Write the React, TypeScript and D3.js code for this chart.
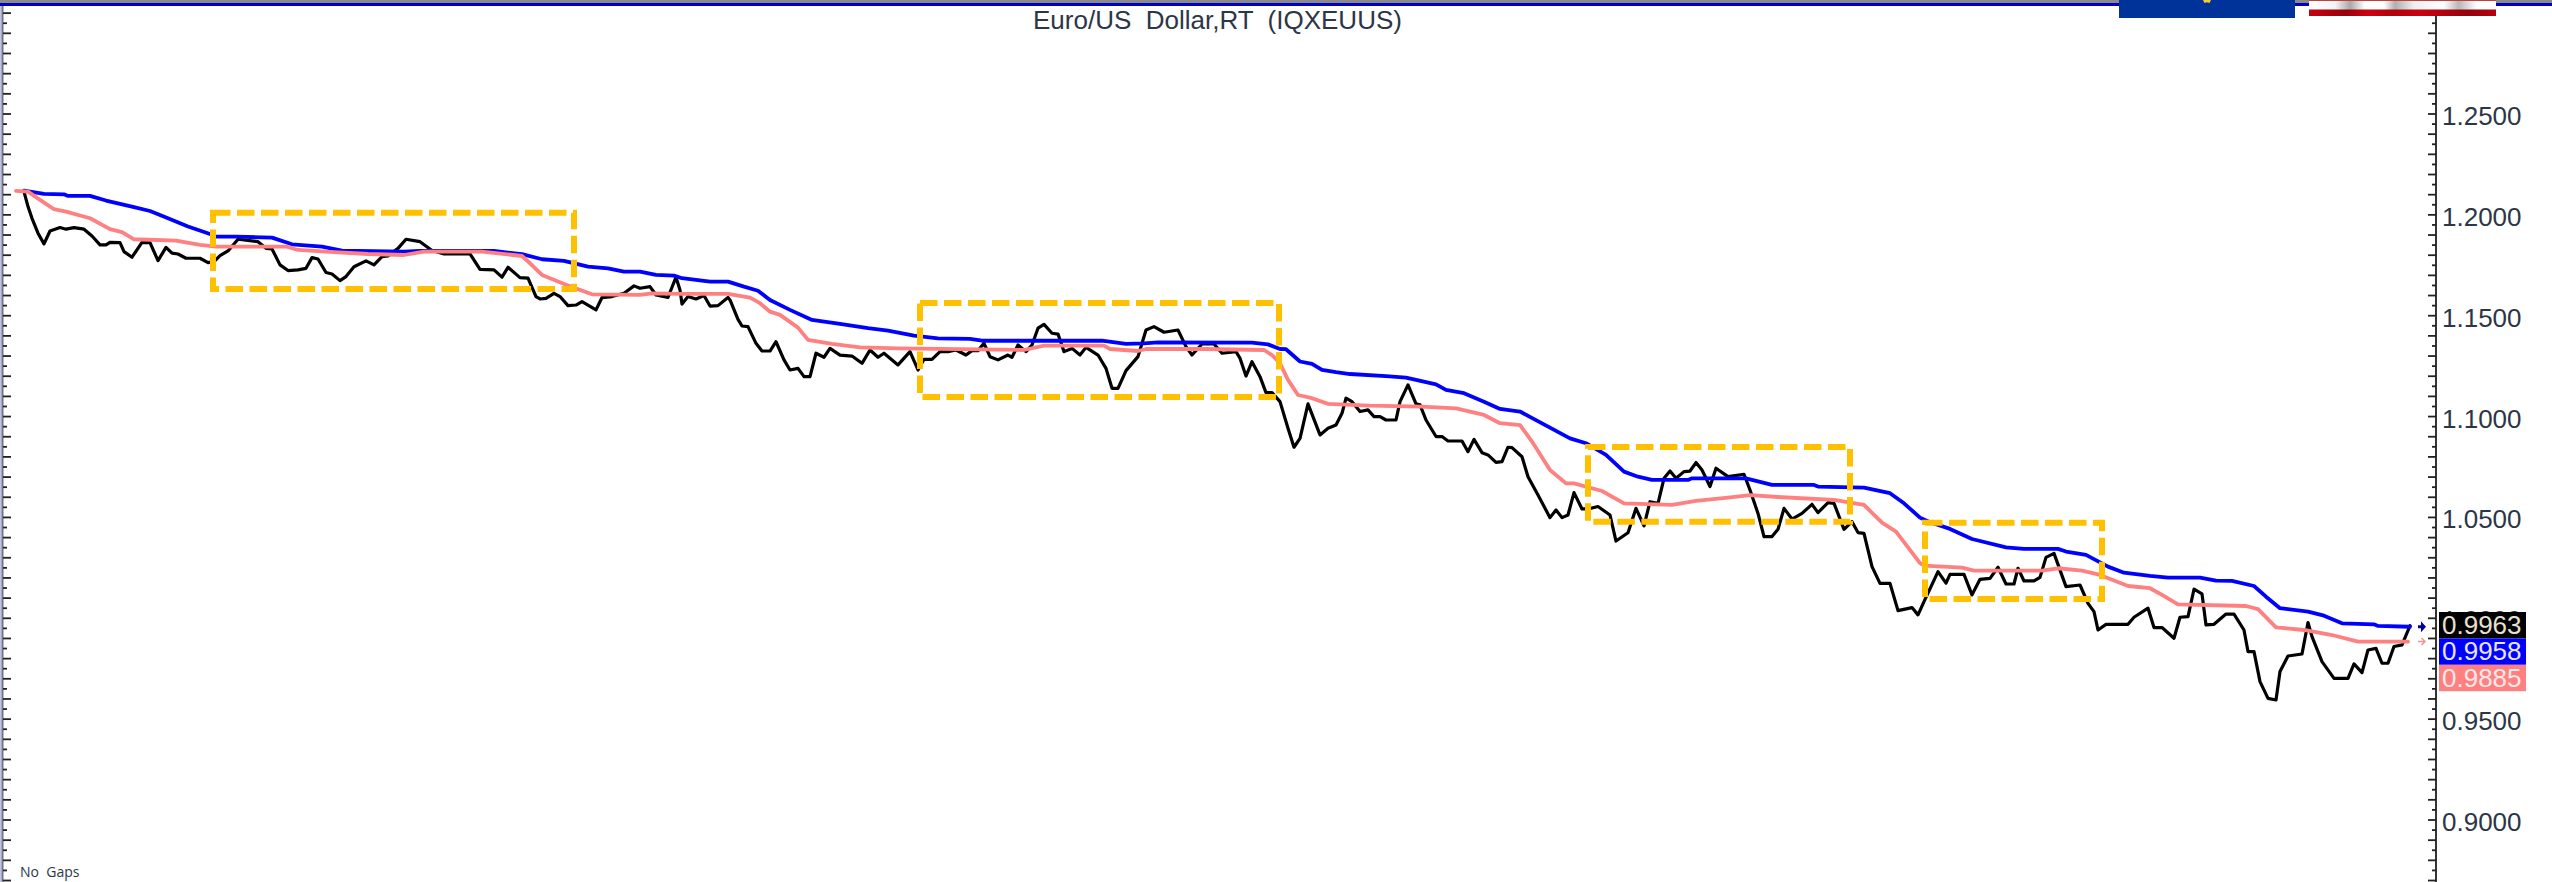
import React from "react";
import * as d3 from "d3";

const WIDTH = 2552;
const HEIGHT = 882;

const titleText = "Euro/US  Dollar,RT  (IQXEUUS)";
const footNote = "No  Gaps";
const axisLabels = [0.9, 0.95, 1.0, 1.05, 1.1, 1.15, 1.2, 1.25];
const lastValues = [
  { value: 0.9963, label: "0.9963", key: "price" },
  { value: 0.9958, label: "0.9958", key: "upper" },
  { value: 0.9885, label: "0.9885", key: "lower" },
];

// [bar number, price]
const priceSeries: [number, number][] = [
  [4,1.2115],[6,1.2041],[8,1.1983],[11,1.1909],[14,1.1856],[17,1.192],[22,1.1937],[25,1.1929],[29,1.1937],[34,1.1929],[38,1.1895],[42,1.1851],[45,1.1851],[47,1.1864],[52,1.1862],[54,1.1818],[58,1.179],[63,1.1864],[67,1.1862],[71,1.1773],[75,1.1839],[78,1.181],[81,1.1806],[85,1.1785],[92,1.1785],[96,1.1763],[99,1.1768],[102,1.1798],[106,1.1821],[111,1.1879],[121,1.1867],[125,1.1834],[128,1.1831],[132,1.1752],[136,1.1724],[141,1.1727],[145,1.1735],[148,1.1788],[151,1.1781],[155,1.1714],[158,1.1707],[162,1.1674],[165,1.1694],[169,1.1743],[175,1.1772],[179,1.1752],[183,1.1793],[186,1.1796],[191,1.1834],[195,1.1879],[202,1.1867],[208,1.1823],[214,1.1806],[227,1.1806],[232,1.173],[239,1.1727],[243,1.1691],[246,1.174],[252,1.1689],[256,1.1686],[260,1.1595],[262,1.1583],[265,1.1586],[269,1.1611],[272,1.1595],[276,1.155],[280,1.1553],[283,1.157],[286,1.1553],[290,1.1529],[293,1.159],[298,1.1595],[304,1.1611],[309,1.1648],[312,1.1636],
  [317,1.1644],[320,1.1603],[326,1.1591],[328,1.1641],[330,1.1691],[332,1.1628],[333,1.1558],[336,1.1595],[340,1.1583],[344,1.16],[347,1.1548],[351,1.155],[356,1.159],[357,1.1578],[361,1.1482],[363,1.1449],[366,1.1446],[370,1.1363],[373,1.1325],[377,1.1325],[380,1.1371],[384,1.1281],[387,1.1231],[391,1.1239],[394,1.1198],[397,1.1198],[400,1.1314],[404,1.1294],[407,1.1338],[412,1.1305],[418,1.13],[423,1.1264],[427,1.133],[431,1.1294],[434,1.1314],[441,1.1256],[447,1.1322],[451,1.1231],[454,1.1284],[458,1.1284],[462,1.1322],[466,1.1322],[470,1.133],[475,1.1305],[478,1.1327],[481,1.1327],[484,1.1363],[487,1.1297],[491,1.1281],[496,1.1305],[498,1.1294],[501,1.1355],[505,1.1322],[508,1.1355],[511,1.1438],[514,1.1457],[518,1.1413],[521,1.1409],[524,1.1322],[528,1.1338],[532,1.1305],[535,1.1343],[541,1.1305],[545,1.1239],[548,1.114],[551,1.114],[555,1.1228],[561,1.1297],[565,1.1429],[569,1.1446],[574,1.1418],[581,1.1429],[585,1.1347],[588,1.1305],[593,1.136],[599,1.136],[603,1.1314],[610,1.1322],[612,1.1289],[615,1.1201],[618,1.1272],[622,1.1198],[625,1.1119],[628,1.1119],[632,1.1074],
  [636,1.0942],[639,1.0848],[642,1.0892],[646,1.1063],[652,1.0909],[656,1.0942],[660,1.0958],[663,1.1016],[665,1.1091],[668,1.1074],[672,1.1025],[676,1.1033],[679,1.1],[682,1.1],[685,1.0983],[690,1.0983],[692,1.1074],[696,1.1157],[700,1.1063],[702,1.1058],[705,1.0983],[710,1.0901],[713,1.0901],[716,1.0879],[723,1.0879],[726,1.0826],[729,1.0887],[733,1.0821],[736,1.081],[740,1.0773],[743,1.0777],[746,1.0848],[748,1.0846],[753,1.0801],[756,1.0702],[761,1.0611],[767,1.0499],[770,1.0537],[773,1.0499],[776,1.0512],[779,1.0623],[783,1.0542],[786,1.0542],[791,1.0554],[797,1.0512],[800,1.0383],[806,1.0424],[810,1.0545],[814,1.0458],[817,1.0578],[821,1.057],[824,1.0694],[827,1.073],[830,1.0694],[834,1.0727],[837,1.073],[840,1.0772],[843,1.0735],[847,1.0653],[850,1.0744],[856,1.0702],[864,1.0714],[867,1.0636],[871,1.052],[874,1.0405],[878,1.0405],[881,1.0441],[884,1.0545],[888,1.0492],[893,1.052],[898,1.0565],[901,1.0524],[906,1.0573],[909,1.057],[914,1.0441],[918,1.0479],[921,1.0425],[924,1.0421],[928,1.0256],[932,1.0173],[937,1.0173],[941,1.0038],
  [948,1.0053],[951,1.0017],[954,1.0083],[961,1.0231],[965,1.0174],[967,1.0218],[974,1.0218],[978,1.0116],[982,1.0193],[987,1.0198],[991,1.0253],[995,1.017],[999,1.017],[1001,1.0248],[1004,1.0185],[1009,1.0185],[1012,1.0203],[1015,1.0302],[1019,1.0322],[1025,1.0157],[1032,1.0165],[1036,1.0074],[1039,1.0033],[1041,0.9942],[1045,0.997],[1056,0.997],[1059,1.0005],[1066,1.005],[1069,0.9954],[1073,0.9954],[1079,0.9901],[1082,1.0005],[1086,1.0008],[1089,1.0144],[1093,1.0121],[1095,0.9967],[1099,0.997],[1105,1.0021],[1109,1.0021],[1114,0.9942],[1116,0.9835],[1119,0.9835],[1122,0.9686],[1126,0.9603],[1130,0.9595],[1132,0.9736],[1136,0.9813],[1143,0.9823],[1146,0.9979],[1148,0.9909],[1153,0.9785],[1159,0.9702],[1166,0.9702],[1169,0.9774],[1173,0.9731],[1176,0.9843],[1180,0.9851],[1183,0.9777],[1186,0.9777],[1189,0.986],[1193,0.9868],[1197,0.9963],
];

const upperAverage: [number, number][] = [
  [4,1.212],[14,1.2104],[24,1.2102],[26,1.2094],[37,1.2094],[45,1.2071],[59,1.2038],[67,1.2019],[76,1.1983],[86,1.1942],[97,1.1905],[100,1.1892],[110,1.1892],[128,1.1887],[138,1.1854],[153,1.1843],[163,1.1823],[194,1.1818],[202,1.1821],[239,1.1821],[253,1.1805],[263,1.178],[274,1.1772],[286,1.1743],[296,1.1735],[304,1.1719],[312,1.1719],
  [320,1.1702],[329,1.1699],[333,1.1686],[347,1.1669],[356,1.1669],[364,1.1644],[371,1.1624],[377,1.1578],[387,1.1529],[398,1.1479],[412,1.1459],[426,1.1438],[436,1.1426],[449,1.1401],[461,1.1388],[477,1.1385],[483,1.1376],[543,1.1376],[555,1.136],[564,1.1363],[571,1.1368],[618,1.1367],[626,1.1358],[632,1.1335],
  [635,1.1334],[642,1.1273],[648,1.1261],[653,1.1231],[660,1.122],[667,1.1211],[685,1.1201],[695,1.1193],[710,1.116],[715,1.1132],[724,1.1116],[734,1.1074],[742,1.1038],[752,1.1025],[777,1.0892],[785,1.0868],[795,1.081],[804,1.0727],[811,1.0702],[818,1.0686],[836,1.0686],[838,1.0694],[865,1.0694],[878,1.0661],[899,1.0661],[901,1.0653],[924,1.0648],[937,1.062],[944,1.057],
  [952,1.0499],[957,1.0476],[967,1.0443],[978,1.0393],[995,1.0352],[1004,1.0344],[1021,1.0344],[1025,1.0331],[1035,1.0314],[1046,1.0256],[1054,1.0226],[1067,1.021],[1076,1.0202],[1092,1.0202],[1100,1.0187],[1108,1.0185],[1119,1.016],[1125,1.0107],[1132,1.005],[1146,1.0033],[1154,1.0013],[1163,0.9975],[1179,0.997],[1181,0.9962],[1197,0.9958],
];

const lowerAverage: [number, number][] = [
  [0,1.2119],[6,1.2115],[12,1.2074],[19,1.2028],[25,1.2016],[37,1.1983],[47,1.1929],[53,1.1914],[59,1.1879],[80,1.1872],[92,1.1851],[100,1.1843],[135,1.1843],[141,1.1826],[159,1.1815],[176,1.1806],[194,1.1801],[204,1.1818],[233,1.1818],[253,1.1796],[257,1.176],[263,1.1702],[275,1.1653],[288,1.1606],[312,1.1603],
  [318,1.1611],[332,1.1608],[356,1.1608],[367,1.159],[372,1.1562],[377,1.152],[382,1.1504],[391,1.1441],[396,1.138],[408,1.136],[422,1.1343],[441,1.1338],[504,1.133],[514,1.1352],[544,1.1352],[547,1.1335],[561,1.1325],[565,1.1335],[594,1.1335],[624,1.133],[628,1.1305],[632,1.1264],
  [636,1.1182],[641,1.1107],[648,1.1091],[656,1.1063],[677,1.1054],[703,1.1049],[720,1.1041],[734,1.1008],[742,1.0967],[752,1.0958],[758,1.0876],[767,1.0735],[775,1.0669],[779,1.0669],[793,1.0631],[804,1.057],[828,1.0562],[840,1.0582],[856,1.0598],[867,1.0611],[883,1.06],[909,1.0587],[924,1.0562],[933,1.0474],[940,1.043],
  [952,1.0273],[954,1.0261],[973,1.0251],[979,1.0236],[1013,1.0236],[1021,1.0248],[1033,1.0236],[1042,1.0215],[1056,1.016],[1067,1.0149],[1073,1.0116],[1081,1.0069],[1115,1.0061],[1121,1.0045],[1130,0.9955],[1144,0.9942],[1158,0.9917],[1171,0.9884],[1196,0.9884],
];

// [first bar, last bar, high price, low price]
const rangeBoxes: [number, number, number, number][] = [
  [98.5, 279, 1.201, 1.1633],
  [452, 631.5, 1.1563, 1.1097],
  [786, 917, 1.0849, 1.0478],
  [954.5, 1043, 1.0473, 1.0096],
];

const x = d3.scaleLinear().domain([0, 1200]).range([16, 2416]);
const y = d3.scaleLinear().domain([0.9, 1.25]).range([820, 114]);

const line = d3
  .line<[number, number]>()
  .x((d) => x(d[0]))
  .y((d) => y(d[1]));

const tickSteps = d3.range(-12, 81);
const TEXT = "#2c3646";
const FONT = "'Liberation Sans', Arial, sans-serif";
const boxFill: Record<string, string> = { price: "#000000", upper: "#0000ff", lower: "#ff8080" };
const boxText: Record<string, string> = { price: "#e8e0d0", upper: "#e6e6ff", lower: "#ffe8e8" };

export default function App() {
  const axisRight = 2436;
  const axisLeft = 3;
  const boxTop = 612;
  const rowH = 26.4;
  return (
    <svg
      width={WIDTH}
      height={HEIGHT}
      viewBox={`0 0 ${WIDTH} ${HEIGHT}`}
      style={{ position: "absolute", left: 0, top: 0, background: "#fff", display: "block" }}
    >
      <defs>
        <filter id="soft" x="-2%" y="-2%" width="104%" height="104%">
          <feGaussianBlur stdDeviation="0.45" />
        </filter>
        <linearGradient id="usWhite" x1="0" x2="1" y1="0" y2="0">
          <stop offset="0" stopColor="#fff" />
          <stop offset="0.14" stopColor="#f4f4f4" />
          <stop offset="0.22" stopColor="#a8a8a8" />
          <stop offset="0.3" stopColor="#fff" />
          <stop offset="0.4" stopColor="#fff" />
          <stop offset="0.46" stopColor="#b0b0b0" />
          <stop offset="0.56" stopColor="#eee" />
          <stop offset="0.72" stopColor="#fff" />
          <stop offset="0.8" stopColor="#b8b8b8" />
          <stop offset="0.9" stopColor="#fff" />
          <stop offset="1" stopColor="#fff" />
        </linearGradient>
        <linearGradient id="usRed" x1="0" x2="1" y1="0" y2="0">
          <stop offset="0" stopColor="#c8000f" />
          <stop offset="0.2" stopColor="#98000c" />
          <stop offset="0.32" stopColor="#d00012" />
          <stop offset="0.45" stopColor="#b0000e" />
          <stop offset="0.6" stopColor="#cc0012" />
          <stop offset="0.85" stopColor="#94000c" />
          <stop offset="1" stopColor="#b80010" />
        </linearGradient>
      </defs>

      {/* top band */}
      <rect x={0} y={0} width={WIDTH} height={3} fill="#8a8a8a" />
      <rect x={0} y={3} width={WIDTH} height={3} fill="#0000c0" />

      {/* left axis */}
      <rect x={0} y={6} width={1.5} height={HEIGHT} fill="#c4c4d8" />
      <rect x={1.5} y={6} width={2} height={HEIGHT} fill="#6f7390" />
      {tickSteps.map((k) => {
        const py = y(0.9 + k * 0.005);
        return (
          <line key={`l${k}`} x1={axisLeft} x2={axisLeft + (k % 2 === 0 ? 8 : 4)} y1={py} y2={py} stroke="#222" strokeWidth={1.8} />
        );
      })}

      {/* right axis */}
      <line x1={axisRight} x2={axisRight} y1={6} y2={HEIGHT} stroke="#333" strokeWidth={2} />
      {tickSteps.map((k) => {
        const py = y(0.9 + k * 0.005);
        return (
          <line key={`r${k}`} x1={axisRight} x2={axisRight - (k % 2 === 0 ? 8 : 4)} y1={py} y2={py} stroke="#222" strokeWidth={1.8} />
        );
      })}
      {axisLabels.map((v) => (
        <text key={v} x={2442} y={y(v) + 11} fontFamily={FONT} fontSize={26} fill={TEXT}>
          {v.toFixed(4)}
        </text>
      ))}

      {/* title */}
      <text x={1033} y={29} fontFamily={FONT} fontSize={26} fill={TEXT} style={{ whiteSpace: "pre" }}>
        {titleText}
      </text>
      <text x={20} y={877} fontFamily="'Open Sans', 'DejaVu Sans', sans-serif" fontSize={14} fill={TEXT} style={{ whiteSpace: "pre" }}>
        {footNote}
      </text>

      {/* series */}
      <g filter="url(#soft)" fill="none" strokeLinejoin="round" strokeLinecap="round">
        <path d={line(priceSeries) ?? ""} stroke="#000" strokeWidth={3.2} />
        <path d={line(upperAverage) ?? ""} stroke="#0000ff" strokeWidth={3.8} />
        <path d={line(lowerAverage) ?? ""} stroke="#ff8080" strokeWidth={3.8} />
      </g>

      {/* highlighted ranges */}
      {rangeBoxes.map(([a, b, hi, lo], i) => (
        <rect
          key={i}
          x={x(a)}
          y={y(hi)}
          width={x(b) - x(a)}
          height={y(lo) - y(hi)}
          fill="none"
          stroke="#ffc000"
          strokeWidth={6}
          strokeDasharray="17.5 6.5"
        />
      ))}

      {/* last value tags */}
      {lastValues.map((d, i) => (
        <g key={d.key}>
          <rect x={2439} y={boxTop + i * rowH} width={87} height={rowH} fill={boxFill[d.key]} />
          <text x={2442} y={boxTop + i * rowH + 22} fontFamily={FONT} fontSize={26} fill={boxText[d.key]}>
            {d.label}
          </text>
        </g>
      ))}

      {/* arrows */}
      <path
        d={`M2418 ${y(lastValues[1].value) - 1.5}h3v-4l5 5.5-5 5.5v-4h-3z`}
        fill="#0000a0"
      />
      <path
        d={`M2418 ${y(lastValues[2].value)}h7m-3.5-3.5 3.5 3.5-3.5 3.5`}
        fill="none"
        stroke="#ff9090"
        strokeWidth={1.5}
      />

      {/* flags */}
      <rect x={2119} y={0} width={176} height={18} fill="#003399" />
      <path d="M2203 0h8l-1.5 3-2.5-.8-2.5.8z" fill="#f2cc30" />
      <rect x={2309} y={0} width={187} height={10} fill="url(#usWhite)" />
      <rect x={2309} y={0} width={187} height={1} fill="#c04040" />
      <rect x={2309} y={9.5} width={187} height={6.5} fill="url(#usRed)" />
    </svg>
  );
}
